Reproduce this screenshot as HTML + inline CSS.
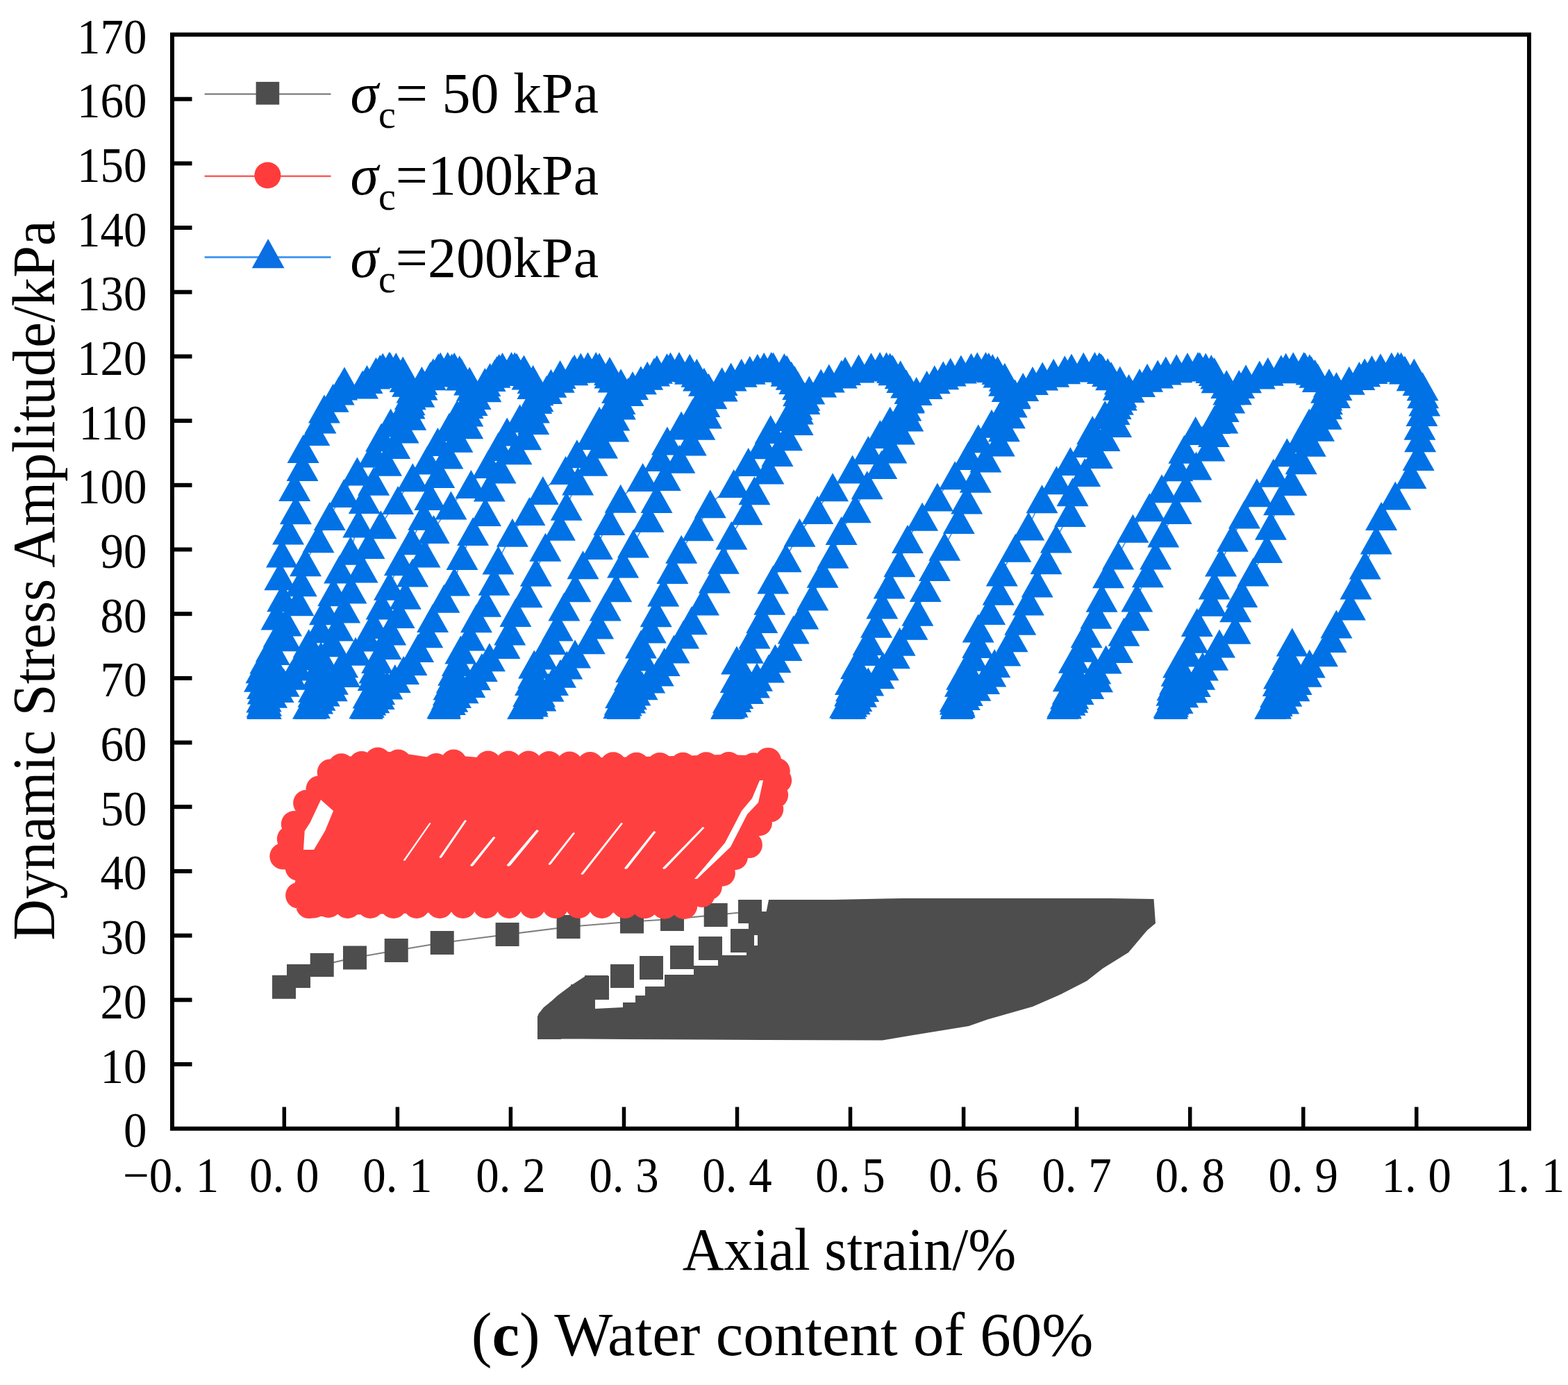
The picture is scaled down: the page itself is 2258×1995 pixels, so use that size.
<!DOCTYPE html>
<html><head><meta charset="utf-8"><title>Axial strain plot</title><style>
body{margin:0;background:#fff;}
svg{display:block;}
.tk{font-family:"Liberation Serif",serif;font-size:72px;fill:#000;}
.ax{font-family:"Liberation Serif",serif;font-size:86px;fill:#000;}
.cap{font-family:"Liberation Serif",serif;font-size:89px;fill:#000;}
.lg{font-family:"Liberation Serif",serif;font-size:82px;fill:#000;}
</style></head>
<body><svg width="2258" height="1995" viewBox="0 0 2258 1995">
<rect width="2258" height="1995" fill="#fff"/>
<polyline points="409.0,1421.8 430.0,1406.0 463.7,1390.0 511.0,1379.5 570.7,1369.0 636.7,1358.0 730.6,1346.0 818.6,1335.0 910.0,1327.5 968.0,1324.0 1030.7,1318.0 1080.0,1313.0" fill="none" stroke="#808080" stroke-width="2.2"/><path d="M775.0 1461.0 L783.0 1451.0 L793.0 1443.0 L803.0 1434.0 L823.0 1419.0 L843.0 1406.0 L877.0 1406.0 L877.0 1440.0 L857.0 1440.0 L857.0 1453.0 L897.0 1451.0 L897.0 1444.0 L915.0 1444.0 L915.0 1434.0 L929.0 1434.0 L929.0 1421.0 L957.0 1421.0 L957.0 1404.0 L999.0 1404.0 L999.0 1391.0 L1034.0 1391.0 L1034.0 1376.0 L1075.0 1376.0 L1075.0 1362.0 L1091.0 1362.0 L1091.0 1331.0 L1100.0 1331.0 L1107.0 1296.0 L1200.0 1296.0 L1300.0 1294.0 L1400.0 1294.0 L1500.0 1294.0 L1600.0 1294.0 L1661.5 1295.0 L1664.0 1330.0 L1652.0 1340.0 L1625.0 1372.0 L1588.0 1395.0 L1565.0 1413.0 L1528.0 1432.0 L1487.0 1450.0 L1422.0 1468.6 L1395.0 1478.0 L1312.0 1491.6 L1270.6 1498.5 L1100.0 1498.0 L900.0 1497.0 L774.0 1496.0zM392.0 1404.8h34.0v34.0h-34.0zM413.0 1389.0h34.0v34.0h-34.0zM446.7 1373.0h34.0v34.0h-34.0zM494.0 1362.5h34.0v34.0h-34.0zM553.7 1352.0h34.0v34.0h-34.0zM619.7 1341.0h34.0v34.0h-34.0zM713.6 1329.0h34.0v34.0h-34.0zM801.6 1318.0h34.0v34.0h-34.0zM893.0 1310.5h34.0v34.0h-34.0zM951.0 1307.0h34.0v34.0h-34.0zM1013.7 1301.0h34.0v34.0h-34.0zM1063.0 1296.0h34.0v34.0h-34.0zM774.0 1463.0h34.0v34.0h-34.0zM792.0 1443.0h34.0v34.0h-34.0zM822.0 1418.0h34.0v34.0h-34.0zM842.0 1405.0h34.0v34.0h-34.0zM879.0 1389.0h34.0v34.0h-34.0zM921.0 1377.0h34.0v34.0h-34.0zM965.0 1362.0h34.0v34.0h-34.0zM1006.0 1349.0h34.0v34.0h-34.0zM1052.0 1338.0h34.0v34.0h-34.0zM1078.0 1313.0h34.0v34.0h-34.0z" fill="#4d4d4d"/><path d="M479.4 1098.9 L500.7 1089.9 L527.9 1087.6 L556.5 1082.5 L585.8 1086.1 L633.7 1093.2 L661.8 1088.7 L707.7 1092.6 L760.3 1093.4 L841.8 1091.8 L939.4 1089.7 L1038.7 1087.1 L1110.5 1088.7 L1126.0 1111.5 L1127.8 1130.4 L1121.9 1153.2 L1112.0 1177.8 L1096.0 1196.8 L1080.7 1215.7 L1078.8 1230.6 L1061.2 1244.0 L1041.9 1268.0 L1022.7 1287.0 L1008.9 1300.0 L974.5 1318.1 L891.0 1315.1 L795.7 1311.8 L704.2 1311.8 L609.0 1315.1 L510.6 1317.4 L455.6 1316.3 L440.2 1310.1 L422.8 1283.7 L426.7 1259.5 L411.9 1242.2 L401.7 1224.8 L411.6 1202.6 L419.4 1177.9 L438.9 1145.7 L456.3 1127.2z" fill="#ff4040"/><path d="M456.7 1112.4a19.0 19.0 0 1 0 38.0 0a19.0 19.0 0 1 0 -38.0 0zM472.6 1104.3a19.0 19.0 0 1 0 38.0 0a19.0 19.0 0 1 0 -38.0 0zM501.8 1101.1a19.0 19.0 0 1 0 38.0 0a19.0 19.0 0 1 0 -38.0 0zM525.1 1095.5a19.0 19.0 0 1 0 38.0 0a19.0 19.0 0 1 0 -38.0 0zM554.5 1098.5a19.0 19.0 0 1 0 38.0 0a19.0 19.0 0 1 0 -38.0 0zM609.3 1104.0a19.0 19.0 0 1 0 38.0 0a19.0 19.0 0 1 0 -38.0 0zM634.3 1098.6a19.0 19.0 0 1 0 38.0 0a19.0 19.0 0 1 0 -38.0 0zM684.0 1100.5a19.0 19.0 0 1 0 38.0 0a19.0 19.0 0 1 0 -38.0 0zM713.3 1100.5a19.0 19.0 0 1 0 38.0 0a19.0 19.0 0 1 0 -38.0 0zM742.3 1100.5a19.0 19.0 0 1 0 38.0 0a19.0 19.0 0 1 0 -38.0 0zM771.7 1101.0a19.0 19.0 0 1 0 38.0 0a19.0 19.0 0 1 0 -38.0 0zM801.2 1101.5a19.0 19.0 0 1 0 38.0 0a19.0 19.0 0 1 0 -38.0 0zM830.8 1102.0a19.0 19.0 0 1 0 38.0 0a19.0 19.0 0 1 0 -38.0 0zM864.1 1102.3a19.0 19.0 0 1 0 38.0 0a19.0 19.0 0 1 0 -38.0 0zM897.5 1102.7a19.0 19.0 0 1 0 38.0 0a19.0 19.0 0 1 0 -38.0 0zM931.2 1103.0a19.0 19.0 0 1 0 38.0 0a19.0 19.0 0 1 0 -38.0 0zM964.5 1102.7a19.0 19.0 0 1 0 38.0 0a19.0 19.0 0 1 0 -38.0 0zM997.9 1102.3a19.0 19.0 0 1 0 38.0 0a19.0 19.0 0 1 0 -38.0 0zM1030.4 1102.0a19.0 19.0 0 1 0 38.0 0a19.0 19.0 0 1 0 -38.0 0zM1066.4 1103.2a19.0 19.0 0 1 0 38.0 0a19.0 19.0 0 1 0 -38.0 0zM1087.2 1095.9a19.0 19.0 0 1 0 38.0 0a19.0 19.0 0 1 0 -38.0 0zM1099.8 1110.8a19.0 19.0 0 1 0 38.0 0a19.0 19.0 0 1 0 -38.0 0zM1102.2 1123.9a19.0 19.0 0 1 0 38.0 0a19.0 19.0 0 1 0 -38.0 0zM1097.1 1145.2a19.0 19.0 0 1 0 38.0 0a19.0 19.0 0 1 0 -38.0 0zM1090.3 1165.4a19.0 19.0 0 1 0 38.0 0a19.0 19.0 0 1 0 -38.0 0zM1074.0 1185.3a19.0 19.0 0 1 0 38.0 0a19.0 19.0 0 1 0 -38.0 0zM1054.9 1214.2a19.0 19.0 0 1 0 38.0 0a19.0 19.0 0 1 0 -38.0 0zM1059.9 1217.1a19.0 19.0 0 1 0 38.0 0a19.0 19.0 0 1 0 -38.0 0zM1039.0 1234.3a19.0 19.0 0 1 0 38.0 0a19.0 19.0 0 1 0 -38.0 0zM1020.9 1257.7a19.0 19.0 0 1 0 38.0 0a19.0 19.0 0 1 0 -38.0 0zM1001.8 1277.4a19.0 19.0 0 1 0 38.0 0a19.0 19.0 0 1 0 -38.0 0zM991.8 1288.0a19.0 19.0 0 1 0 38.0 0a19.0 19.0 0 1 0 -38.0 0zM966.2 1305.0a19.0 19.0 0 1 0 38.0 0a19.0 19.0 0 1 0 -38.0 0zM937.9 1304.7a19.0 19.0 0 1 0 38.0 0a19.0 19.0 0 1 0 -38.0 0zM909.6 1304.3a19.0 19.0 0 1 0 38.0 0a19.0 19.0 0 1 0 -38.0 0zM881.0 1304.0a19.0 19.0 0 1 0 38.0 0a19.0 19.0 0 1 0 -38.0 0zM847.7 1304.0a19.0 19.0 0 1 0 38.0 0a19.0 19.0 0 1 0 -38.0 0zM814.3 1304.0a19.0 19.0 0 1 0 38.0 0a19.0 19.0 0 1 0 -38.0 0zM781.0 1304.0a19.0 19.0 0 1 0 38.0 0a19.0 19.0 0 1 0 -38.0 0zM747.7 1304.0a19.0 19.0 0 1 0 38.0 0a19.0 19.0 0 1 0 -38.0 0zM714.3 1304.0a19.0 19.0 0 1 0 38.0 0a19.0 19.0 0 1 0 -38.0 0zM681.0 1304.0a19.0 19.0 0 1 0 38.0 0a19.0 19.0 0 1 0 -38.0 0zM647.7 1304.0a19.0 19.0 0 1 0 38.0 0a19.0 19.0 0 1 0 -38.0 0zM614.3 1304.0a19.0 19.0 0 1 0 38.0 0a19.0 19.0 0 1 0 -38.0 0zM581.0 1304.0a19.0 19.0 0 1 0 38.0 0a19.0 19.0 0 1 0 -38.0 0zM547.7 1304.0a19.0 19.0 0 1 0 38.0 0a19.0 19.0 0 1 0 -38.0 0zM514.3 1304.0a19.0 19.0 0 1 0 38.0 0a19.0 19.0 0 1 0 -38.0 0zM481.7 1304.0a19.0 19.0 0 1 0 38.0 0a19.0 19.0 0 1 0 -38.0 0zM454.0 1303.0a19.0 19.0 0 1 0 38.0 0a19.0 19.0 0 1 0 -38.0 0zM433.0 1303.5a19.0 19.0 0 1 0 38.0 0a19.0 19.0 0 1 0 -38.0 0zM426.0 1304.1a19.0 19.0 0 1 0 38.0 0a19.0 19.0 0 1 0 -38.0 0zM411.1 1289.8a19.0 19.0 0 1 0 38.0 0a19.0 19.0 0 1 0 -38.0 0zM410.6 1249.8a19.0 19.0 0 1 0 38.0 0a19.0 19.0 0 1 0 -38.0 0zM397.5 1234.6a19.0 19.0 0 1 0 38.0 0a19.0 19.0 0 1 0 -38.0 0zM388.3 1233.4a19.0 19.0 0 1 0 38.0 0a19.0 19.0 0 1 0 -38.0 0zM398.8 1208.5a19.0 19.0 0 1 0 38.0 0a19.0 19.0 0 1 0 -38.0 0zM404.8 1187.0a19.0 19.0 0 1 0 38.0 0a19.0 19.0 0 1 0 -38.0 0zM422.1 1156.8a19.0 19.0 0 1 0 38.0 0a19.0 19.0 0 1 0 -38.0 0zM440.5 1136.4a19.0 19.0 0 1 0 38.0 0a19.0 19.0 0 1 0 -38.0 0z" fill="#ff4040"/><path d="M462.0 1152.0 L480.0 1168.0 L468.0 1197.0 L452.0 1224.0 L437.0 1224.0 L438.7 1197.0 L446.5 1185.0zM1094.0 1124.0 L1083.0 1150.0 L1068.0 1168.0 L1044.0 1214.0 L1000.0 1266.0 L1004.0 1266.0 L1052.0 1220.0 L1076.0 1173.0 L1092.0 1156.0 L1099.0 1124.0zM1012.0 1191.0L1014.5 1192.5L958.5 1251.0L956.0 1252.0L954.0 1250.5L1010.0 1193.0zM942.0 1197.0L944.5 1198.5L903.5 1251.0L901.0 1252.0L899.0 1250.5L940.0 1199.0zM895.0 1185.0L897.0 1186.2L840.0 1259.2L838.0 1260.0L836.4 1258.8L893.4 1186.6zM826.0 1199.0L828.0 1200.2L793.0 1245.2L791.0 1246.0L789.4 1244.8L824.4 1200.6zM773.0 1195.0L776.0 1196.8L735.0 1246.8L732.0 1248.0L729.6 1246.2L770.6 1197.4zM711.0 1205.0L713.5 1206.5L681.5 1247.0L679.0 1248.0L677.0 1246.5L709.0 1207.0zM670.0 1181.0L672.0 1182.2L636.0 1235.2L634.0 1236.0L632.4 1234.8L668.4 1182.6zM619.0 1185.0L620.5 1185.9L583.5 1239.4L582.0 1240.0L580.8 1239.1L617.8 1186.2z" fill="#fff"/><polyline points="379.0,1015.5 378.2,1014.9 377.6,1013.1 379.1,1010.4 377.3,1006.1 380.1,1001.0 378.8,994.1 378.2,986.6 374.0,976.3 376.5,963.7 382.4,949.9 390.8,932.9 401.7,911.7 398.5,887.1 407.2,860.8 403.3,829.7 406.0,797.0 415.0,764.1 425.9,734.7 424.2,701.4 435.5,672.6 436.6,646.4 452.3,621.6 461.5,604.0 466.9,589.1 479.6,573.3 487.7,563.1 522.1,553.9 528.5,546.4 539.1,540.0 541.5,535.2 547.3,531.5 551.2,529.1 561.8,527.8 560.4,527.6 570.3,528.5 571.0,530.7 580.2,534.1 579.4,538.5 583.7,544.5 587.1,551.2 593.5,559.9 590.8,569.8 589.5,582.9 591.2,599.3 580.6,617.9 568.2,640.5 556.0,665.2 538.1,693.2 524.8,719.5 516.3,754.0 504.8,793.3 489.1,820.0 480.2,852.8 468.0,879.7 460.8,905.8 444.7,926.7 436.2,944.2 427.1,959.9 419.4,973.3 408.6,983.3 400.6,991.5 391.0,999.2 382.7,1004.9 379.7,1009.2 379.4,1012.4 380.3,1014.5 382.8,1015.4 378.9,1015.2 378.8,1013.8 383.1,1011.2 380.4,1007.5 379.6,1002.4 386.5,996.4 387.1,988.9 383.9,979.5 386.4,968.4 391.7,954.5 394.8,937.4 411.1,917.7 411.9,896.0 429.5,866.8 433.7,838.7 440.0,809.8 458.5,775.8 474.7,743.6 495.3,710.6 514.4,678.9 538.3,653.1 549.1,629.9 562.6,608.9 580.1,591.9 589.6,577.8 603.4,566.3 607.5,556.1 607.4,548.5 619.8,541.8 623.8,536.7 629.9,532.6 631.3,529.8 634.2,528.0 644.7,527.5 654.2,528.2 650.5,529.9 661.7,532.8 664.6,537.1 665.0,542.0 676.1,549.0 679.9,557.2 679.4,566.3 679.6,578.5 673.3,594.1 673.2,611.7 658.4,631.3 644.4,655.1 632.2,682.5 619.2,714.6 610.3,743.2 592.7,778.8 575.9,808.8 561.0,844.2 549.6,872.0 537.7,899.5 527.7,918.1 512.1,938.2 493.1,955.8 496.0,969.6 478.9,980.2 477.7,989.8 466.8,997.1 460.5,1003.3 457.1,1008.0 448.6,1011.6 447.1,1014.0 444.0,1015.3 447.6,1015.4 453.0,1014.4 446.9,1012.2 450.2,1008.5 450.8,1004.2 451.5,998.2 452.0,991.3 458.3,982.7 457.0,972.8 459.6,958.8 462.2,944.9 478.2,925.8 486.6,902.9 496.2,877.0 505.5,849.0 521.6,819.1 531.5,784.4 548.4,755.7 573.1,720.4 594.3,687.7 615.2,662.9 630.4,636.4 646.9,615.3 658.4,596.8 673.6,582.4 684.6,569.6 699.3,558.8 698.4,550.6 705.6,543.4 712.4,538.3 715.6,533.6 718.7,530.5 723.5,528.4 736.5,527.5 741.2,527.8 744.1,529.3 754.5,531.9 752.2,535.5 759.5,540.9 767.6,546.6 767.4,554.4 774.4,563.8 772.3,575.4 768.9,589.0 768.2,605.6 757.2,627.8 743.4,648.8 720.6,675.9 704.8,702.1 698.9,737.6 681.1,765.6 665.5,800.6 654.2,837.9 639.4,862.2 623.1,890.4 615.3,912.8 602.1,933.4 592.5,952.5 581.1,965.6 568.8,977.5 557.4,987.1 546.3,994.7 545.6,1001.5 538.3,1006.8 528.1,1010.6 530.8,1013.4 527.4,1015.0 528.6,1015.5 525.4,1014.8 530.0,1012.9 533.3,1009.9 534.2,1005.7 530.5,1000.1 540.6,993.6 539.6,985.2 537.6,974.5 539.4,963.9 543.1,949.4 555.5,929.6 562.2,909.1 574.6,884.5 583.8,857.2 594.1,825.1 611.5,797.1 624.6,762.4 649.4,727.9 678.4,697.6 703.3,668.5 717.5,643.5 730.2,622.0 748.7,602.7 763.0,585.3 774.4,572.8 787.1,561.5 793.4,552.3 804.7,545.3 806.6,539.5 824.5,534.7 827.2,531.3 836.3,528.9 846.5,527.7 858.2,527.6 863.0,528.7 863.4,530.9 878.0,534.4 878.5,539.0 883.6,544.9 894.1,551.7 889.1,560.4 888.2,572.0 892.8,583.9 884.3,600.1 883.4,616.1 867.0,640.0 852.6,665.3 832.2,692.9 815.7,729.2 805.9,758.3 785.4,788.3 771.8,824.3 758.5,854.7 742.4,882.6 734.2,909.1 726.5,928.6 704.9,946.8 693.8,961.4 683.9,973.7 676.3,984.4 666.6,992.8 656.0,999.5 651.3,1005.2 647.9,1009.5 639.6,1012.7 637.4,1014.7 639.6,1015.5 640.9,1015.1 640.5,1013.6 640.4,1010.9 641.7,1007.0 643.9,1001.9 645.8,995.8 646.5,987.9 650.8,977.8 653.2,967.3 658.8,953.5 663.4,936.1 676.3,916.9 685.9,890.8 699.1,868.3 711.6,837.2 717.5,807.0 737.9,767.3 762.4,736.6 781.8,706.6 814.5,677.5 830.9,653.8 851.4,627.6 863.2,606.3 876.8,590.9 892.5,576.6 904.5,564.5 911.0,555.6 922.9,547.8 932.2,541.2 942.0,536.0 945.9,532.3 960.5,529.5 965.5,527.9 978.0,527.5 978.4,528.3 993.2,530.2 994.0,533.3 1003.4,537.2 1006.1,543.1 1013.9,550.2 1020.5,558.2 1018.7,568.6 1014.3,580.4 1016.8,597.0 1007.3,613.2 994.8,636.1 978.4,661.2 957.8,686.4 945.5,718.5 933.7,746.3 912.0,782.9 897.1,811.9 887.3,846.8 871.8,873.9 861.1,900.0 848.8,921.7 828.1,941.9 816.2,958.1 807.0,970.3 796.0,981.5 789.5,990.3 777.1,998.1 778.3,1004.0 766.4,1008.4 766.8,1011.9 756.6,1014.2 759.5,1015.4 753.1,1015.4 760.3,1014.2 758.5,1011.9 761.6,1008.3 762.3,1003.6 761.2,997.6 767.4,990.5 764.0,981.5 768.1,971.2 769.2,956.9 780.1,944.1 792.9,922.6 802.8,903.1 812.4,874.1 828.4,846.8 839.5,813.8 859.8,785.6 877.3,750.6 893.7,718.3 925.6,687.4 950.2,658.5 960.9,634.9 981.1,612.9 997.5,595.1 1005.7,581.3 1024.4,568.7 1039.7,558.1 1039.6,549.5 1052.6,542.9 1067.7,537.3 1079.7,533.2 1090.8,530.2 1100.2,528.3 1110.7,527.5 1113.5,527.9 1129.4,529.5 1133.2,532.3 1132.5,536.3 1139.7,541.2 1144.3,547.6 1149.2,555.4 1150.1,564.7 1158.3,576.5 1148.9,591.0 1148.6,606.4 1133.0,628.8 1119.5,651.4 1106.4,677.0 1086.4,706.8 1075.5,735.7 1053.4,771.3 1041.8,806.3 1028.9,833.9 1013.0,865.9 996.0,893.8 984.1,913.9 970.5,934.9 956.7,953.5 947.7,968.1 935.2,977.9 924.6,987.7 914.4,995.9 908.9,1001.7 907.2,1007.1 901.8,1010.9 899.6,1013.6 899.6,1015.1 896.7,1015.5 891.3,1014.7 895.4,1012.7 892.8,1009.7 898.3,1005.1 894.1,999.7 900.6,992.7 903.2,984.2 907.0,973.9 909.3,962.5 923.9,946.0 923.0,927.9 936.7,906.0 944.7,882.7 955.2,853.2 968.4,820.4 981.2,791.3 1005.2,758.8 1022.8,725.7 1056.7,696.5 1077.7,665.6 1098.1,640.7 1109.7,618.4 1134.3,600.6 1147.5,584.3 1158.4,571.3 1165.3,561.9 1182.2,551.9 1193.8,544.9 1211.8,539.0 1217.1,534.4 1236.5,531.0 1254.5,528.7 1267.1,527.6 1276.5,527.7 1281.6,528.9 1285.1,531.4 1287.2,534.8 1296.7,539.7 1299.3,545.6 1305.1,552.9 1310.5,561.4 1309.0,573.3 1304.3,585.9 1307.3,601.1 1295.1,620.1 1283.4,647.0 1269.3,669.4 1248.7,698.8 1231.7,732.8 1211.6,764.5 1199.5,798.2 1184.6,826.2 1170.2,859.0 1156.2,886.1 1142.7,907.0 1132.6,931.5 1116.4,948.5 1107.0,962.9 1090.0,975.3 1086.0,984.9 1077.0,993.4 1062.3,1000.6 1059.1,1005.6 1053.4,1010.0 1054.6,1012.9 1050.0,1014.8 1046.1,1015.5 1048.0,1015.0 1047.0,1013.4 1049.3,1010.6 1048.9,1006.8 1052.1,1001.7 1056.6,995.2 1061.7,986.9 1059.7,977.4 1065.9,966.9 1061.0,950.9 1076.8,935.3 1086.5,914.1 1097.3,891.4 1108.3,865.2 1113.3,834.9 1131.7,803.8 1151.5,767.2 1177.3,734.5 1199.1,701.8 1227.6,676.1 1250.3,648.6 1267.4,625.6 1281.7,606.3 1300.1,588.8 1308.5,575.1 1319.7,563.5 1334.7,554.4 1345.8,546.7 1358.3,540.7 1368.7,535.9 1383.9,532.0 1398.5,529.3 1407.3,527.8 1419.5,527.5 1423.8,528.4 1429.3,530.4 1436.5,533.6 1438.5,538.0 1446.8,543.3 1446.1,550.2 1450.6,558.6 1461.4,568.7 1456.7,580.9 1453.8,596.7 1445.9,615.8 1438.8,637.0 1419.4,660.1 1404.8,689.2 1392.2,720.1 1380.8,748.6 1360.3,787.3 1345.9,816.5 1332.7,846.5 1321.4,881.2 1313.4,901.3 1295.6,924.3 1287.9,942.7 1271.7,959.7 1265.4,971.8 1250.2,982.0 1243.3,990.6 1240.1,998.3 1233.3,1004.5 1230.6,1008.7 1226.1,1012.2 1219.0,1014.3 1219.8,1015.4 1224.5,1015.3 1217.0,1014.0 1220.2,1011.6 1222.5,1007.9 1226.1,1002.8 1224.0,997.0 1226.0,989.8 1224.9,980.4 1232.4,969.8 1233.0,957.7 1248.7,938.6 1250.7,923.5 1262.0,898.2 1270.3,871.0 1280.7,841.9 1295.4,810.8 1306.9,776.5 1328.1,744.2 1349.9,715.9 1375.2,684.7 1394.4,656.5 1408.8,631.8 1428.0,610.2 1444.8,593.8 1451.2,578.8 1461.7,567.1 1473.2,557.6 1487.0,548.4 1501.2,542.0 1517.2,537.2 1533.3,532.8 1543.0,530.0 1560.3,528.1 1576.5,527.5 1583.0,528.0 1585.5,529.7 1587.9,532.5 1595.2,536.5 1600.2,541.8 1612.8,548.1 1610.7,556.2 1614.5,566.5 1609.8,577.3 1604.5,591.4 1607.1,609.5 1590.5,629.5 1579.8,654.5 1562.2,680.5 1544.6,708.7 1541.0,738.4 1520.9,776.1 1506.5,806.8 1493.7,839.9 1480.9,866.1 1469.3,894.3 1457.6,918.8 1447.3,939.1 1432.2,955.4 1426.3,969.1 1417.1,979.6 1404.3,989.2 1392.8,996.5 1388.8,1002.6 1380.1,1007.4 1381.4,1011.3 1381.7,1013.8 1376.7,1015.2 1378.2,1015.4 1379.0,1014.5 1377.6,1012.4 1375.8,1009.0 1375.7,1004.9 1381.2,998.8 1384.0,992.5 1382.9,983.3 1385.2,973.3 1392.1,961.3 1400.1,946.2 1408.2,927.5 1408.7,904.9 1425.1,879.5 1437.7,851.3 1442.8,823.9 1462.3,789.2 1481.2,757.9 1500.5,718.7 1521.5,691.8 1541.4,664.6 1564.4,638.4 1573.3,619.4 1591.3,597.6 1606.6,583.5 1614.8,570.9 1625.6,559.5 1641.1,551.5 1652.1,544.3 1667.2,538.9 1678.8,534.1 1694.2,530.7 1710.0,528.6 1725.1,527.6 1727.7,527.7 1736.3,529.1 1744.3,531.6 1748.7,535.4 1751.3,539.9 1752.6,545.8 1766.3,553.4 1769.4,563.1 1769.0,574.6 1761.7,587.4 1760.4,604.1 1748.0,623.4 1741.4,643.9 1722.5,671.0 1707.8,703.1 1693.7,734.5 1675.2,767.9 1664.1,799.9 1652.9,825.8 1637.3,861.0 1632.6,888.3 1618.5,910.2 1609.0,934.5 1592.7,949.9 1577.2,965.1 1580.0,976.8 1567.3,986.5 1552.7,994.7 1545.2,1000.9 1544.3,1006.3 1540.6,1010.3 1534.1,1013.1 1534.8,1014.9 1530.1,1015.5 1532.7,1014.9 1530.5,1013.1 1535.7,1010.3 1542.0,1006.0 1535.1,1001.1 1537.8,994.3 1545.3,986.2 1538.8,975.8 1546.2,964.7 1546.9,949.3 1559.7,933.2 1564.6,912.7 1578.5,885.3 1586.6,861.3 1596.1,826.7 1610.1,800.1 1631.4,761.3 1655.3,730.8 1673.0,703.8 1695.2,672.7 1705.4,647.2 1721.7,620.5 1748.9,604.6 1759.8,586.9 1770.3,574.9 1780.0,562.8 1784.3,553.6 1794.1,545.8 1813.8,539.9 1825.8,535.2 1844.9,531.7 1851.7,529.1 1862.3,527.7 1877.6,527.6 1879.4,528.5 1885.9,530.8 1888.6,534.0 1893.5,538.3 1897.8,544.5 1914.0,551.4 1910.1,560.2 1910.4,570.9 1910.4,583.4 1909.5,598.2 1899.0,615.3 1886.8,637.2 1873.7,662.8 1859.5,693.4 1842.1,721.8 1830.0,757.3 1824.2,790.5 1804.6,824.0 1788.3,854.5 1779.2,875.8 1778.6,907.2 1756.0,927.0 1746.0,945.3 1731.9,960.0 1727.2,973.3 1720.8,983.6 1716.4,991.9 1703.2,998.7 1693.0,1004.9 1689.5,1009.2 1688.9,1012.4 1685.9,1014.5 1684.6,1015.4 1688.0,1015.2 1683.6,1013.8 1686.6,1011.3 1695.6,1007.6 1688.6,1002.6 1687.4,996.2 1688.5,988.8 1692.1,980.0 1694.6,968.3 1697.2,956.0 1708.8,939.9 1717.4,920.3 1723.8,896.5 1743.6,867.2 1748.7,842.9 1758.1,809.9 1774.9,774.3 1792.0,741.0 1809.9,709.7 1833.8,681.2 1853.4,651.7 1872.9,631.4 1885.3,609.0 1897.4,592.6 1911.0,576.7 1922.0,567.4 1924.5,556.6 1942.8,548.3 1957.4,541.6 1965.2,536.8 1975.5,532.5 1988.0,529.7 2003.9,528.0 2013.0,527.5 2017.7,528.1 2013.0,530.0 2023.0,532.9 2036.4,536.9 2033.7,542.7 2042.6,549.5 2048.6,556.8 2049.2,567.7 2051.3,579.1 2047.5,593.6 2044.5,613.3 2045.2,630.7 2042.7,657.5 2031.5,683.6 2009.3,714.0 1989.1,743.4 1981.8,777.9 1965.8,814.0 1952.5,843.0 1943.9,873.0 1924.5,899.0 1916.6,919.6 1904.0,939.8 1885.8,956.1 1880.9,969.3 1866.7,980.5 1863.5,989.7 1852.4,997.3 1845.6,1003.1 1848.2,1007.9 1838.7,1011.6 1836.4,1014.0 1836.9,1015.3 1829.2,1015.4 1833.1,1014.3 1834.1,1012.1 1838.3,1008.7 1838.7,1004.3 1837.2,998.5 1846.0,991.4 1840.8,982.6 1842.1,972.1 1851.6,958.5 1854.4,944.5 1860.8,925.0" fill="none" stroke="#3f8fef" stroke-width="1.6"/><path d="M356.0 1036.0h46.0l-23.0 -41.0zM355.2 1035.4h46.0l-23.0 -41.0zM354.6 1033.6h46.0l-23.0 -41.0zM356.1 1030.9h46.0l-23.0 -41.0zM354.3 1026.6h46.0l-23.0 -41.0zM357.1 1021.5h46.0l-23.0 -41.0zM355.8 1014.6h46.0l-23.0 -41.0zM355.2 1007.1h46.0l-23.0 -41.0zM351.0 996.8h46.0l-23.0 -41.0zM353.5 984.2h46.0l-23.0 -41.0zM359.4 970.4h46.0l-23.0 -41.0zM367.8 953.4h46.0l-23.0 -41.0zM378.7 932.2h46.0l-23.0 -41.0zM375.5 907.6h46.0l-23.0 -41.0zM384.2 881.3h46.0l-23.0 -41.0zM380.3 850.2h46.0l-23.0 -41.0zM383.0 817.5h46.0l-23.0 -41.0zM392.0 784.6h46.0l-23.0 -41.0zM402.9 755.2h46.0l-23.0 -41.0zM401.2 721.9h46.0l-23.0 -41.0zM412.5 693.1h46.0l-23.0 -41.0zM413.6 666.9h46.0l-23.0 -41.0zM429.3 642.1h46.0l-23.0 -41.0zM438.5 624.5h46.0l-23.0 -41.0zM443.9 609.6h46.0l-23.0 -41.0zM456.6 593.8h46.0l-23.0 -41.0zM464.7 583.6h46.0l-23.0 -41.0zM499.1 574.4h46.0l-23.0 -41.0zM505.5 566.9h46.0l-23.0 -41.0zM516.1 560.5h46.0l-23.0 -41.0zM518.5 555.7h46.0l-23.0 -41.0zM524.3 552.0h46.0l-23.0 -41.0zM528.2 549.6h46.0l-23.0 -41.0zM538.8 548.3h46.0l-23.0 -41.0zM537.4 548.1h46.0l-23.0 -41.0zM547.3 549.0h46.0l-23.0 -41.0zM548.0 551.2h46.0l-23.0 -41.0zM557.2 554.6h46.0l-23.0 -41.0zM556.4 559.0h46.0l-23.0 -41.0zM560.7 565.0h46.0l-23.0 -41.0zM564.1 571.7h46.0l-23.0 -41.0zM570.5 580.4h46.0l-23.0 -41.0zM567.8 590.3h46.0l-23.0 -41.0zM566.5 603.4h46.0l-23.0 -41.0zM568.2 619.8h46.0l-23.0 -41.0zM557.6 638.4h46.0l-23.0 -41.0zM545.2 661.0h46.0l-23.0 -41.0zM533.0 685.7h46.0l-23.0 -41.0zM515.1 713.7h46.0l-23.0 -41.0zM501.8 740.0h46.0l-23.0 -41.0zM493.3 774.5h46.0l-23.0 -41.0zM481.8 813.8h46.0l-23.0 -41.0zM466.1 840.5h46.0l-23.0 -41.0zM457.2 873.3h46.0l-23.0 -41.0zM445.0 900.2h46.0l-23.0 -41.0zM437.8 926.3h46.0l-23.0 -41.0zM421.7 947.2h46.0l-23.0 -41.0zM413.2 964.7h46.0l-23.0 -41.0zM404.1 980.4h46.0l-23.0 -41.0zM396.4 993.8h46.0l-23.0 -41.0zM385.6 1003.8h46.0l-23.0 -41.0zM377.6 1012.0h46.0l-23.0 -41.0zM368.0 1019.7h46.0l-23.0 -41.0zM359.7 1025.4h46.0l-23.0 -41.0zM356.7 1029.7h46.0l-23.0 -41.0zM356.4 1032.9h46.0l-23.0 -41.0zM357.3 1035.0h46.0l-23.0 -41.0zM359.8 1035.9h46.0l-23.0 -41.0zM355.9 1035.7h46.0l-23.0 -41.0zM355.8 1034.3h46.0l-23.0 -41.0zM360.1 1031.7h46.0l-23.0 -41.0zM357.4 1028.0h46.0l-23.0 -41.0zM356.6 1022.9h46.0l-23.0 -41.0zM363.5 1016.9h46.0l-23.0 -41.0zM364.1 1009.4h46.0l-23.0 -41.0zM360.9 1000.0h46.0l-23.0 -41.0zM363.4 988.9h46.0l-23.0 -41.0zM368.7 975.0h46.0l-23.0 -41.0zM371.8 957.9h46.0l-23.0 -41.0zM388.1 938.2h46.0l-23.0 -41.0zM388.9 916.5h46.0l-23.0 -41.0zM406.5 887.3h46.0l-23.0 -41.0zM410.7 859.2h46.0l-23.0 -41.0zM417.0 830.3h46.0l-23.0 -41.0zM435.5 796.3h46.0l-23.0 -41.0zM451.7 764.1h46.0l-23.0 -41.0zM472.3 731.1h46.0l-23.0 -41.0zM491.4 699.4h46.0l-23.0 -41.0zM515.3 673.6h46.0l-23.0 -41.0zM526.1 650.4h46.0l-23.0 -41.0zM539.6 629.4h46.0l-23.0 -41.0zM557.1 612.4h46.0l-23.0 -41.0zM566.6 598.3h46.0l-23.0 -41.0zM580.4 586.8h46.0l-23.0 -41.0zM584.5 576.6h46.0l-23.0 -41.0zM584.4 569.0h46.0l-23.0 -41.0zM596.8 562.3h46.0l-23.0 -41.0zM600.8 557.2h46.0l-23.0 -41.0zM606.9 553.1h46.0l-23.0 -41.0zM608.3 550.3h46.0l-23.0 -41.0zM611.2 548.5h46.0l-23.0 -41.0zM621.7 548.0h46.0l-23.0 -41.0zM631.2 548.7h46.0l-23.0 -41.0zM627.5 550.4h46.0l-23.0 -41.0zM638.7 553.3h46.0l-23.0 -41.0zM641.6 557.6h46.0l-23.0 -41.0zM642.0 562.5h46.0l-23.0 -41.0zM653.1 569.5h46.0l-23.0 -41.0zM656.9 577.7h46.0l-23.0 -41.0zM656.4 586.8h46.0l-23.0 -41.0zM656.6 599.0h46.0l-23.0 -41.0zM650.3 614.6h46.0l-23.0 -41.0zM650.2 632.2h46.0l-23.0 -41.0zM635.4 651.8h46.0l-23.0 -41.0zM621.4 675.6h46.0l-23.0 -41.0zM609.2 703.0h46.0l-23.0 -41.0zM596.2 735.1h46.0l-23.0 -41.0zM587.3 763.7h46.0l-23.0 -41.0zM569.7 799.3h46.0l-23.0 -41.0zM552.9 829.3h46.0l-23.0 -41.0zM538.0 864.7h46.0l-23.0 -41.0zM526.6 892.5h46.0l-23.0 -41.0zM514.7 920.0h46.0l-23.0 -41.0zM504.7 938.6h46.0l-23.0 -41.0zM489.1 958.7h46.0l-23.0 -41.0zM470.1 976.3h46.0l-23.0 -41.0zM473.0 990.1h46.0l-23.0 -41.0zM455.9 1000.7h46.0l-23.0 -41.0zM454.7 1010.3h46.0l-23.0 -41.0zM443.8 1017.6h46.0l-23.0 -41.0zM437.5 1023.8h46.0l-23.0 -41.0zM434.1 1028.5h46.0l-23.0 -41.0zM425.6 1032.1h46.0l-23.0 -41.0zM424.1 1034.5h46.0l-23.0 -41.0zM421.0 1035.8h46.0l-23.0 -41.0zM424.6 1035.9h46.0l-23.0 -41.0zM430.0 1034.9h46.0l-23.0 -41.0zM423.9 1032.7h46.0l-23.0 -41.0zM427.2 1029.0h46.0l-23.0 -41.0zM427.8 1024.7h46.0l-23.0 -41.0zM428.5 1018.7h46.0l-23.0 -41.0zM429.0 1011.8h46.0l-23.0 -41.0zM435.3 1003.2h46.0l-23.0 -41.0zM434.0 993.3h46.0l-23.0 -41.0zM436.6 979.3h46.0l-23.0 -41.0zM439.2 965.4h46.0l-23.0 -41.0zM455.2 946.3h46.0l-23.0 -41.0zM463.6 923.4h46.0l-23.0 -41.0zM473.2 897.5h46.0l-23.0 -41.0zM482.5 869.5h46.0l-23.0 -41.0zM498.6 839.6h46.0l-23.0 -41.0zM508.5 804.9h46.0l-23.0 -41.0zM525.4 776.2h46.0l-23.0 -41.0zM550.1 740.9h46.0l-23.0 -41.0zM571.3 708.2h46.0l-23.0 -41.0zM592.2 683.4h46.0l-23.0 -41.0zM607.4 656.9h46.0l-23.0 -41.0zM623.9 635.8h46.0l-23.0 -41.0zM635.4 617.3h46.0l-23.0 -41.0zM650.6 602.9h46.0l-23.0 -41.0zM661.6 590.1h46.0l-23.0 -41.0zM676.3 579.3h46.0l-23.0 -41.0zM675.4 571.1h46.0l-23.0 -41.0zM682.6 563.9h46.0l-23.0 -41.0zM689.4 558.8h46.0l-23.0 -41.0zM692.6 554.1h46.0l-23.0 -41.0zM695.7 551.0h46.0l-23.0 -41.0zM700.5 548.9h46.0l-23.0 -41.0zM713.5 548.0h46.0l-23.0 -41.0zM718.2 548.3h46.0l-23.0 -41.0zM721.1 549.8h46.0l-23.0 -41.0zM731.5 552.4h46.0l-23.0 -41.0zM729.2 556.0h46.0l-23.0 -41.0zM736.5 561.4h46.0l-23.0 -41.0zM744.6 567.1h46.0l-23.0 -41.0zM744.4 574.9h46.0l-23.0 -41.0zM751.4 584.3h46.0l-23.0 -41.0zM749.3 595.9h46.0l-23.0 -41.0zM745.9 609.5h46.0l-23.0 -41.0zM745.2 626.1h46.0l-23.0 -41.0zM734.2 648.3h46.0l-23.0 -41.0zM720.4 669.3h46.0l-23.0 -41.0zM697.6 696.4h46.0l-23.0 -41.0zM681.8 722.6h46.0l-23.0 -41.0zM675.9 758.1h46.0l-23.0 -41.0zM658.1 786.1h46.0l-23.0 -41.0zM642.5 821.1h46.0l-23.0 -41.0zM631.2 858.4h46.0l-23.0 -41.0zM616.4 882.7h46.0l-23.0 -41.0zM600.1 910.9h46.0l-23.0 -41.0zM592.3 933.3h46.0l-23.0 -41.0zM579.1 953.9h46.0l-23.0 -41.0zM569.5 973.0h46.0l-23.0 -41.0zM558.1 986.1h46.0l-23.0 -41.0zM545.8 998.0h46.0l-23.0 -41.0zM534.4 1007.6h46.0l-23.0 -41.0zM523.3 1015.2h46.0l-23.0 -41.0zM522.6 1022.0h46.0l-23.0 -41.0zM515.3 1027.3h46.0l-23.0 -41.0zM505.1 1031.1h46.0l-23.0 -41.0zM507.8 1033.9h46.0l-23.0 -41.0zM504.4 1035.5h46.0l-23.0 -41.0zM505.6 1036.0h46.0l-23.0 -41.0zM502.4 1035.3h46.0l-23.0 -41.0zM507.0 1033.4h46.0l-23.0 -41.0zM510.3 1030.4h46.0l-23.0 -41.0zM511.2 1026.2h46.0l-23.0 -41.0zM507.5 1020.6h46.0l-23.0 -41.0zM517.6 1014.1h46.0l-23.0 -41.0zM516.6 1005.7h46.0l-23.0 -41.0zM514.6 995.0h46.0l-23.0 -41.0zM516.4 984.4h46.0l-23.0 -41.0zM520.1 969.9h46.0l-23.0 -41.0zM532.5 950.1h46.0l-23.0 -41.0zM539.2 929.6h46.0l-23.0 -41.0zM551.6 905.0h46.0l-23.0 -41.0zM560.8 877.7h46.0l-23.0 -41.0zM571.1 845.6h46.0l-23.0 -41.0zM588.5 817.6h46.0l-23.0 -41.0zM601.6 782.9h46.0l-23.0 -41.0zM626.4 748.4h46.0l-23.0 -41.0zM655.4 718.1h46.0l-23.0 -41.0zM680.3 689.0h46.0l-23.0 -41.0zM694.5 664.0h46.0l-23.0 -41.0zM707.2 642.5h46.0l-23.0 -41.0zM725.7 623.2h46.0l-23.0 -41.0zM740.0 605.8h46.0l-23.0 -41.0zM751.4 593.3h46.0l-23.0 -41.0zM764.1 582.0h46.0l-23.0 -41.0zM770.4 572.8h46.0l-23.0 -41.0zM781.7 565.8h46.0l-23.0 -41.0zM783.6 560.0h46.0l-23.0 -41.0zM801.5 555.2h46.0l-23.0 -41.0zM804.2 551.8h46.0l-23.0 -41.0zM813.3 549.4h46.0l-23.0 -41.0zM823.5 548.2h46.0l-23.0 -41.0zM835.2 548.1h46.0l-23.0 -41.0zM840.0 549.2h46.0l-23.0 -41.0zM840.4 551.4h46.0l-23.0 -41.0zM855.0 554.9h46.0l-23.0 -41.0zM855.5 559.5h46.0l-23.0 -41.0zM860.6 565.4h46.0l-23.0 -41.0zM871.1 572.2h46.0l-23.0 -41.0zM866.1 580.9h46.0l-23.0 -41.0zM865.2 592.5h46.0l-23.0 -41.0zM869.8 604.4h46.0l-23.0 -41.0zM861.3 620.6h46.0l-23.0 -41.0zM860.4 636.6h46.0l-23.0 -41.0zM844.0 660.5h46.0l-23.0 -41.0zM829.6 685.8h46.0l-23.0 -41.0zM809.2 713.4h46.0l-23.0 -41.0zM792.7 749.7h46.0l-23.0 -41.0zM782.9 778.8h46.0l-23.0 -41.0zM762.4 808.8h46.0l-23.0 -41.0zM748.8 844.8h46.0l-23.0 -41.0zM735.5 875.2h46.0l-23.0 -41.0zM719.4 903.1h46.0l-23.0 -41.0zM711.2 929.6h46.0l-23.0 -41.0zM703.5 949.1h46.0l-23.0 -41.0zM681.9 967.3h46.0l-23.0 -41.0zM670.8 981.9h46.0l-23.0 -41.0zM660.9 994.2h46.0l-23.0 -41.0zM653.3 1004.9h46.0l-23.0 -41.0zM643.6 1013.3h46.0l-23.0 -41.0zM633.0 1020.0h46.0l-23.0 -41.0zM628.3 1025.7h46.0l-23.0 -41.0zM624.9 1030.0h46.0l-23.0 -41.0zM616.6 1033.2h46.0l-23.0 -41.0zM614.4 1035.2h46.0l-23.0 -41.0zM616.6 1036.0h46.0l-23.0 -41.0zM617.9 1035.6h46.0l-23.0 -41.0zM617.5 1034.1h46.0l-23.0 -41.0zM617.4 1031.4h46.0l-23.0 -41.0zM618.7 1027.5h46.0l-23.0 -41.0zM620.9 1022.4h46.0l-23.0 -41.0zM622.8 1016.3h46.0l-23.0 -41.0zM623.5 1008.4h46.0l-23.0 -41.0zM627.8 998.3h46.0l-23.0 -41.0zM630.2 987.8h46.0l-23.0 -41.0zM635.8 974.0h46.0l-23.0 -41.0zM640.4 956.6h46.0l-23.0 -41.0zM653.3 937.4h46.0l-23.0 -41.0zM662.9 911.3h46.0l-23.0 -41.0zM676.1 888.8h46.0l-23.0 -41.0zM688.6 857.7h46.0l-23.0 -41.0zM694.5 827.5h46.0l-23.0 -41.0zM714.9 787.8h46.0l-23.0 -41.0zM739.4 757.1h46.0l-23.0 -41.0zM758.8 727.1h46.0l-23.0 -41.0zM791.5 698.0h46.0l-23.0 -41.0zM807.9 674.3h46.0l-23.0 -41.0zM828.4 648.1h46.0l-23.0 -41.0zM840.2 626.8h46.0l-23.0 -41.0zM853.8 611.4h46.0l-23.0 -41.0zM869.5 597.1h46.0l-23.0 -41.0zM881.5 585.0h46.0l-23.0 -41.0zM888.0 576.1h46.0l-23.0 -41.0zM899.9 568.3h46.0l-23.0 -41.0zM909.2 561.7h46.0l-23.0 -41.0zM919.0 556.5h46.0l-23.0 -41.0zM922.9 552.8h46.0l-23.0 -41.0zM937.5 550.0h46.0l-23.0 -41.0zM942.5 548.4h46.0l-23.0 -41.0zM955.0 548.0h46.0l-23.0 -41.0zM955.4 548.8h46.0l-23.0 -41.0zM970.2 550.7h46.0l-23.0 -41.0zM971.0 553.8h46.0l-23.0 -41.0zM980.4 557.7h46.0l-23.0 -41.0zM983.1 563.6h46.0l-23.0 -41.0zM990.9 570.7h46.0l-23.0 -41.0zM997.5 578.7h46.0l-23.0 -41.0zM995.7 589.1h46.0l-23.0 -41.0zM991.3 600.9h46.0l-23.0 -41.0zM993.8 617.5h46.0l-23.0 -41.0zM984.3 633.7h46.0l-23.0 -41.0zM971.8 656.6h46.0l-23.0 -41.0zM955.4 681.7h46.0l-23.0 -41.0zM934.8 706.9h46.0l-23.0 -41.0zM922.5 739.0h46.0l-23.0 -41.0zM910.7 766.8h46.0l-23.0 -41.0zM889.0 803.4h46.0l-23.0 -41.0zM874.1 832.4h46.0l-23.0 -41.0zM864.3 867.3h46.0l-23.0 -41.0zM848.8 894.4h46.0l-23.0 -41.0zM838.1 920.5h46.0l-23.0 -41.0zM825.8 942.2h46.0l-23.0 -41.0zM805.1 962.4h46.0l-23.0 -41.0zM793.2 978.6h46.0l-23.0 -41.0zM784.0 990.8h46.0l-23.0 -41.0zM773.0 1002.0h46.0l-23.0 -41.0zM766.5 1010.8h46.0l-23.0 -41.0zM754.1 1018.6h46.0l-23.0 -41.0zM755.3 1024.5h46.0l-23.0 -41.0zM743.4 1028.9h46.0l-23.0 -41.0zM743.8 1032.4h46.0l-23.0 -41.0zM733.6 1034.7h46.0l-23.0 -41.0zM736.5 1035.9h46.0l-23.0 -41.0zM730.1 1035.9h46.0l-23.0 -41.0zM737.3 1034.7h46.0l-23.0 -41.0zM735.5 1032.4h46.0l-23.0 -41.0zM738.6 1028.8h46.0l-23.0 -41.0zM739.3 1024.1h46.0l-23.0 -41.0zM738.2 1018.1h46.0l-23.0 -41.0zM744.4 1011.0h46.0l-23.0 -41.0zM741.0 1002.0h46.0l-23.0 -41.0zM745.1 991.7h46.0l-23.0 -41.0zM746.2 977.4h46.0l-23.0 -41.0zM757.1 964.6h46.0l-23.0 -41.0zM769.9 943.1h46.0l-23.0 -41.0zM779.8 923.6h46.0l-23.0 -41.0zM789.4 894.6h46.0l-23.0 -41.0zM805.4 867.3h46.0l-23.0 -41.0zM816.5 834.3h46.0l-23.0 -41.0zM836.8 806.1h46.0l-23.0 -41.0zM854.3 771.1h46.0l-23.0 -41.0zM870.7 738.8h46.0l-23.0 -41.0zM902.6 707.9h46.0l-23.0 -41.0zM927.2 679.0h46.0l-23.0 -41.0zM937.9 655.4h46.0l-23.0 -41.0zM958.1 633.4h46.0l-23.0 -41.0zM974.5 615.6h46.0l-23.0 -41.0zM982.7 601.8h46.0l-23.0 -41.0zM1001.4 589.2h46.0l-23.0 -41.0zM1016.7 578.6h46.0l-23.0 -41.0zM1016.6 570.0h46.0l-23.0 -41.0zM1029.6 563.4h46.0l-23.0 -41.0zM1044.7 557.8h46.0l-23.0 -41.0zM1056.7 553.7h46.0l-23.0 -41.0zM1067.8 550.7h46.0l-23.0 -41.0zM1077.2 548.8h46.0l-23.0 -41.0zM1087.7 548.0h46.0l-23.0 -41.0zM1090.5 548.4h46.0l-23.0 -41.0zM1106.4 550.0h46.0l-23.0 -41.0zM1110.2 552.8h46.0l-23.0 -41.0zM1109.5 556.8h46.0l-23.0 -41.0zM1116.7 561.7h46.0l-23.0 -41.0zM1121.3 568.1h46.0l-23.0 -41.0zM1126.2 575.9h46.0l-23.0 -41.0zM1127.1 585.2h46.0l-23.0 -41.0zM1135.3 597.0h46.0l-23.0 -41.0zM1125.9 611.5h46.0l-23.0 -41.0zM1125.6 626.9h46.0l-23.0 -41.0zM1110.0 649.3h46.0l-23.0 -41.0zM1096.5 671.9h46.0l-23.0 -41.0zM1083.4 697.5h46.0l-23.0 -41.0zM1063.4 727.3h46.0l-23.0 -41.0zM1052.5 756.2h46.0l-23.0 -41.0zM1030.4 791.8h46.0l-23.0 -41.0zM1018.8 826.8h46.0l-23.0 -41.0zM1005.9 854.4h46.0l-23.0 -41.0zM990.0 886.4h46.0l-23.0 -41.0zM973.0 914.3h46.0l-23.0 -41.0zM961.1 934.4h46.0l-23.0 -41.0zM947.5 955.4h46.0l-23.0 -41.0zM933.7 974.0h46.0l-23.0 -41.0zM924.7 988.6h46.0l-23.0 -41.0zM912.2 998.4h46.0l-23.0 -41.0zM901.6 1008.2h46.0l-23.0 -41.0zM891.4 1016.4h46.0l-23.0 -41.0zM885.9 1022.2h46.0l-23.0 -41.0zM884.2 1027.6h46.0l-23.0 -41.0zM878.8 1031.4h46.0l-23.0 -41.0zM876.6 1034.1h46.0l-23.0 -41.0zM876.6 1035.6h46.0l-23.0 -41.0zM873.7 1036.0h46.0l-23.0 -41.0zM868.3 1035.2h46.0l-23.0 -41.0zM872.4 1033.2h46.0l-23.0 -41.0zM869.8 1030.2h46.0l-23.0 -41.0zM875.3 1025.6h46.0l-23.0 -41.0zM871.1 1020.2h46.0l-23.0 -41.0zM877.6 1013.2h46.0l-23.0 -41.0zM880.2 1004.7h46.0l-23.0 -41.0zM884.0 994.4h46.0l-23.0 -41.0zM886.3 983.0h46.0l-23.0 -41.0zM900.9 966.5h46.0l-23.0 -41.0zM900.0 948.4h46.0l-23.0 -41.0zM913.7 926.5h46.0l-23.0 -41.0zM921.7 903.2h46.0l-23.0 -41.0zM932.2 873.7h46.0l-23.0 -41.0zM945.4 840.9h46.0l-23.0 -41.0zM958.2 811.8h46.0l-23.0 -41.0zM982.2 779.3h46.0l-23.0 -41.0zM999.8 746.2h46.0l-23.0 -41.0zM1033.7 717.0h46.0l-23.0 -41.0zM1054.7 686.1h46.0l-23.0 -41.0zM1075.1 661.2h46.0l-23.0 -41.0zM1086.7 638.9h46.0l-23.0 -41.0zM1111.3 621.1h46.0l-23.0 -41.0zM1124.5 604.8h46.0l-23.0 -41.0zM1135.4 591.8h46.0l-23.0 -41.0zM1142.3 582.4h46.0l-23.0 -41.0zM1159.2 572.4h46.0l-23.0 -41.0zM1170.8 565.4h46.0l-23.0 -41.0zM1188.8 559.5h46.0l-23.0 -41.0zM1194.1 554.9h46.0l-23.0 -41.0zM1213.5 551.5h46.0l-23.0 -41.0zM1231.5 549.2h46.0l-23.0 -41.0zM1244.1 548.1h46.0l-23.0 -41.0zM1253.5 548.2h46.0l-23.0 -41.0zM1258.6 549.4h46.0l-23.0 -41.0zM1262.1 551.9h46.0l-23.0 -41.0zM1264.2 555.3h46.0l-23.0 -41.0zM1273.7 560.2h46.0l-23.0 -41.0zM1276.3 566.1h46.0l-23.0 -41.0zM1282.1 573.4h46.0l-23.0 -41.0zM1287.5 581.9h46.0l-23.0 -41.0zM1286.0 593.8h46.0l-23.0 -41.0zM1281.3 606.4h46.0l-23.0 -41.0zM1284.3 621.6h46.0l-23.0 -41.0zM1272.1 640.6h46.0l-23.0 -41.0zM1260.4 667.5h46.0l-23.0 -41.0zM1246.3 689.9h46.0l-23.0 -41.0zM1225.7 719.3h46.0l-23.0 -41.0zM1208.7 753.3h46.0l-23.0 -41.0zM1188.6 785.0h46.0l-23.0 -41.0zM1176.5 818.7h46.0l-23.0 -41.0zM1161.6 846.7h46.0l-23.0 -41.0zM1147.2 879.5h46.0l-23.0 -41.0zM1133.2 906.6h46.0l-23.0 -41.0zM1119.7 927.5h46.0l-23.0 -41.0zM1109.6 952.0h46.0l-23.0 -41.0zM1093.4 969.0h46.0l-23.0 -41.0zM1084.0 983.4h46.0l-23.0 -41.0zM1067.0 995.8h46.0l-23.0 -41.0zM1063.0 1005.4h46.0l-23.0 -41.0zM1054.0 1013.9h46.0l-23.0 -41.0zM1039.3 1021.1h46.0l-23.0 -41.0zM1036.1 1026.1h46.0l-23.0 -41.0zM1030.4 1030.5h46.0l-23.0 -41.0zM1031.6 1033.4h46.0l-23.0 -41.0zM1027.0 1035.3h46.0l-23.0 -41.0zM1023.1 1036.0h46.0l-23.0 -41.0zM1025.0 1035.5h46.0l-23.0 -41.0zM1024.0 1033.9h46.0l-23.0 -41.0zM1026.3 1031.1h46.0l-23.0 -41.0zM1025.9 1027.3h46.0l-23.0 -41.0zM1029.1 1022.2h46.0l-23.0 -41.0zM1033.6 1015.7h46.0l-23.0 -41.0zM1038.7 1007.4h46.0l-23.0 -41.0zM1036.7 997.9h46.0l-23.0 -41.0zM1042.9 987.4h46.0l-23.0 -41.0zM1038.0 971.4h46.0l-23.0 -41.0zM1053.8 955.8h46.0l-23.0 -41.0zM1063.5 934.6h46.0l-23.0 -41.0zM1074.3 911.9h46.0l-23.0 -41.0zM1085.3 885.7h46.0l-23.0 -41.0zM1090.3 855.4h46.0l-23.0 -41.0zM1108.7 824.3h46.0l-23.0 -41.0zM1128.5 787.7h46.0l-23.0 -41.0zM1154.3 755.0h46.0l-23.0 -41.0zM1176.1 722.3h46.0l-23.0 -41.0zM1204.6 696.6h46.0l-23.0 -41.0zM1227.3 669.1h46.0l-23.0 -41.0zM1244.4 646.1h46.0l-23.0 -41.0zM1258.7 626.8h46.0l-23.0 -41.0zM1277.1 609.3h46.0l-23.0 -41.0zM1285.5 595.6h46.0l-23.0 -41.0zM1296.7 584.0h46.0l-23.0 -41.0zM1311.7 574.9h46.0l-23.0 -41.0zM1322.8 567.2h46.0l-23.0 -41.0zM1335.3 561.2h46.0l-23.0 -41.0zM1345.7 556.4h46.0l-23.0 -41.0zM1360.9 552.5h46.0l-23.0 -41.0zM1375.5 549.8h46.0l-23.0 -41.0zM1384.3 548.3h46.0l-23.0 -41.0zM1396.5 548.0h46.0l-23.0 -41.0zM1400.8 548.9h46.0l-23.0 -41.0zM1406.3 550.9h46.0l-23.0 -41.0zM1413.5 554.1h46.0l-23.0 -41.0zM1415.5 558.5h46.0l-23.0 -41.0zM1423.8 563.8h46.0l-23.0 -41.0zM1423.1 570.7h46.0l-23.0 -41.0zM1427.6 579.1h46.0l-23.0 -41.0zM1438.4 589.2h46.0l-23.0 -41.0zM1433.7 601.4h46.0l-23.0 -41.0zM1430.8 617.2h46.0l-23.0 -41.0zM1422.9 636.3h46.0l-23.0 -41.0zM1415.8 657.5h46.0l-23.0 -41.0zM1396.4 680.6h46.0l-23.0 -41.0zM1381.8 709.7h46.0l-23.0 -41.0zM1369.2 740.6h46.0l-23.0 -41.0zM1357.8 769.1h46.0l-23.0 -41.0zM1337.3 807.8h46.0l-23.0 -41.0zM1322.9 837.0h46.0l-23.0 -41.0zM1309.7 867.0h46.0l-23.0 -41.0zM1298.4 901.7h46.0l-23.0 -41.0zM1290.4 921.8h46.0l-23.0 -41.0zM1272.6 944.8h46.0l-23.0 -41.0zM1264.9 963.2h46.0l-23.0 -41.0zM1248.7 980.2h46.0l-23.0 -41.0zM1242.4 992.3h46.0l-23.0 -41.0zM1227.2 1002.5h46.0l-23.0 -41.0zM1220.3 1011.1h46.0l-23.0 -41.0zM1217.1 1018.8h46.0l-23.0 -41.0zM1210.3 1025.0h46.0l-23.0 -41.0zM1207.6 1029.2h46.0l-23.0 -41.0zM1203.1 1032.7h46.0l-23.0 -41.0zM1196.0 1034.8h46.0l-23.0 -41.0zM1196.8 1035.9h46.0l-23.0 -41.0zM1201.5 1035.8h46.0l-23.0 -41.0zM1194.0 1034.5h46.0l-23.0 -41.0zM1197.2 1032.1h46.0l-23.0 -41.0zM1199.5 1028.4h46.0l-23.0 -41.0zM1203.1 1023.3h46.0l-23.0 -41.0zM1201.0 1017.5h46.0l-23.0 -41.0zM1203.0 1010.3h46.0l-23.0 -41.0zM1201.9 1000.9h46.0l-23.0 -41.0zM1209.4 990.3h46.0l-23.0 -41.0zM1210.0 978.2h46.0l-23.0 -41.0zM1225.7 959.1h46.0l-23.0 -41.0zM1227.7 944.0h46.0l-23.0 -41.0zM1239.0 918.7h46.0l-23.0 -41.0zM1247.3 891.5h46.0l-23.0 -41.0zM1257.7 862.4h46.0l-23.0 -41.0zM1272.4 831.3h46.0l-23.0 -41.0zM1283.9 797.0h46.0l-23.0 -41.0zM1305.1 764.7h46.0l-23.0 -41.0zM1326.9 736.4h46.0l-23.0 -41.0zM1352.2 705.2h46.0l-23.0 -41.0zM1371.4 677.0h46.0l-23.0 -41.0zM1385.8 652.3h46.0l-23.0 -41.0zM1405.0 630.7h46.0l-23.0 -41.0zM1421.8 614.3h46.0l-23.0 -41.0zM1428.2 599.3h46.0l-23.0 -41.0zM1438.7 587.6h46.0l-23.0 -41.0zM1450.2 578.1h46.0l-23.0 -41.0zM1464.0 568.9h46.0l-23.0 -41.0zM1478.2 562.5h46.0l-23.0 -41.0zM1494.2 557.7h46.0l-23.0 -41.0zM1510.3 553.3h46.0l-23.0 -41.0zM1520.0 550.5h46.0l-23.0 -41.0zM1537.3 548.6h46.0l-23.0 -41.0zM1553.5 548.0h46.0l-23.0 -41.0zM1560.0 548.5h46.0l-23.0 -41.0zM1562.5 550.2h46.0l-23.0 -41.0zM1564.9 553.0h46.0l-23.0 -41.0zM1572.2 557.0h46.0l-23.0 -41.0zM1577.2 562.3h46.0l-23.0 -41.0zM1589.8 568.6h46.0l-23.0 -41.0zM1587.7 576.7h46.0l-23.0 -41.0zM1591.5 587.0h46.0l-23.0 -41.0zM1586.8 597.8h46.0l-23.0 -41.0zM1581.5 611.9h46.0l-23.0 -41.0zM1584.1 630.0h46.0l-23.0 -41.0zM1567.5 650.0h46.0l-23.0 -41.0zM1556.8 675.0h46.0l-23.0 -41.0zM1539.2 701.0h46.0l-23.0 -41.0zM1521.6 729.2h46.0l-23.0 -41.0zM1518.0 758.9h46.0l-23.0 -41.0zM1497.9 796.6h46.0l-23.0 -41.0zM1483.5 827.3h46.0l-23.0 -41.0zM1470.7 860.4h46.0l-23.0 -41.0zM1457.9 886.6h46.0l-23.0 -41.0zM1446.3 914.8h46.0l-23.0 -41.0zM1434.6 939.3h46.0l-23.0 -41.0zM1424.3 959.6h46.0l-23.0 -41.0zM1409.2 975.9h46.0l-23.0 -41.0zM1403.3 989.6h46.0l-23.0 -41.0zM1394.1 1000.1h46.0l-23.0 -41.0zM1381.3 1009.7h46.0l-23.0 -41.0zM1369.8 1017.0h46.0l-23.0 -41.0zM1365.8 1023.1h46.0l-23.0 -41.0zM1357.1 1027.9h46.0l-23.0 -41.0zM1358.4 1031.8h46.0l-23.0 -41.0zM1358.7 1034.3h46.0l-23.0 -41.0zM1353.7 1035.7h46.0l-23.0 -41.0zM1355.2 1035.9h46.0l-23.0 -41.0zM1356.0 1035.0h46.0l-23.0 -41.0zM1354.6 1032.9h46.0l-23.0 -41.0zM1352.8 1029.5h46.0l-23.0 -41.0zM1352.7 1025.4h46.0l-23.0 -41.0zM1358.2 1019.3h46.0l-23.0 -41.0zM1361.0 1013.0h46.0l-23.0 -41.0zM1359.9 1003.8h46.0l-23.0 -41.0zM1362.2 993.8h46.0l-23.0 -41.0zM1369.1 981.8h46.0l-23.0 -41.0zM1377.1 966.7h46.0l-23.0 -41.0zM1385.2 948.0h46.0l-23.0 -41.0zM1385.7 925.4h46.0l-23.0 -41.0zM1402.1 900.0h46.0l-23.0 -41.0zM1414.7 871.8h46.0l-23.0 -41.0zM1419.8 844.4h46.0l-23.0 -41.0zM1439.3 809.7h46.0l-23.0 -41.0zM1458.2 778.4h46.0l-23.0 -41.0zM1477.5 739.2h46.0l-23.0 -41.0zM1498.5 712.3h46.0l-23.0 -41.0zM1518.4 685.1h46.0l-23.0 -41.0zM1541.4 658.9h46.0l-23.0 -41.0zM1550.3 639.9h46.0l-23.0 -41.0zM1568.3 618.1h46.0l-23.0 -41.0zM1583.6 604.0h46.0l-23.0 -41.0zM1591.8 591.4h46.0l-23.0 -41.0zM1602.6 580.0h46.0l-23.0 -41.0zM1618.1 572.0h46.0l-23.0 -41.0zM1629.1 564.8h46.0l-23.0 -41.0zM1644.2 559.4h46.0l-23.0 -41.0zM1655.8 554.6h46.0l-23.0 -41.0zM1671.2 551.2h46.0l-23.0 -41.0zM1687.0 549.1h46.0l-23.0 -41.0zM1702.1 548.1h46.0l-23.0 -41.0zM1704.7 548.2h46.0l-23.0 -41.0zM1713.3 549.6h46.0l-23.0 -41.0zM1721.3 552.1h46.0l-23.0 -41.0zM1725.7 555.9h46.0l-23.0 -41.0zM1728.3 560.4h46.0l-23.0 -41.0zM1729.6 566.3h46.0l-23.0 -41.0zM1743.3 573.9h46.0l-23.0 -41.0zM1746.4 583.6h46.0l-23.0 -41.0zM1746.0 595.1h46.0l-23.0 -41.0zM1738.7 607.9h46.0l-23.0 -41.0zM1737.4 624.6h46.0l-23.0 -41.0zM1725.0 643.9h46.0l-23.0 -41.0zM1718.4 664.4h46.0l-23.0 -41.0zM1699.5 691.5h46.0l-23.0 -41.0zM1684.8 723.6h46.0l-23.0 -41.0zM1670.7 755.0h46.0l-23.0 -41.0zM1652.2 788.4h46.0l-23.0 -41.0zM1641.1 820.4h46.0l-23.0 -41.0zM1629.9 846.3h46.0l-23.0 -41.0zM1614.3 881.5h46.0l-23.0 -41.0zM1609.6 908.8h46.0l-23.0 -41.0zM1595.5 930.7h46.0l-23.0 -41.0zM1586.0 955.0h46.0l-23.0 -41.0zM1569.7 970.4h46.0l-23.0 -41.0zM1554.2 985.6h46.0l-23.0 -41.0zM1557.0 997.3h46.0l-23.0 -41.0zM1544.3 1007.0h46.0l-23.0 -41.0zM1529.7 1015.2h46.0l-23.0 -41.0zM1522.2 1021.4h46.0l-23.0 -41.0zM1521.3 1026.8h46.0l-23.0 -41.0zM1517.6 1030.8h46.0l-23.0 -41.0zM1511.1 1033.6h46.0l-23.0 -41.0zM1511.8 1035.4h46.0l-23.0 -41.0zM1507.1 1036.0h46.0l-23.0 -41.0zM1509.7 1035.4h46.0l-23.0 -41.0zM1507.5 1033.6h46.0l-23.0 -41.0zM1512.7 1030.8h46.0l-23.0 -41.0zM1519.0 1026.5h46.0l-23.0 -41.0zM1512.1 1021.6h46.0l-23.0 -41.0zM1514.8 1014.8h46.0l-23.0 -41.0zM1522.3 1006.7h46.0l-23.0 -41.0zM1515.8 996.3h46.0l-23.0 -41.0zM1523.2 985.2h46.0l-23.0 -41.0zM1523.9 969.8h46.0l-23.0 -41.0zM1536.7 953.7h46.0l-23.0 -41.0zM1541.6 933.2h46.0l-23.0 -41.0zM1555.5 905.8h46.0l-23.0 -41.0zM1563.6 881.8h46.0l-23.0 -41.0zM1573.1 847.2h46.0l-23.0 -41.0zM1587.1 820.6h46.0l-23.0 -41.0zM1608.4 781.8h46.0l-23.0 -41.0zM1632.3 751.3h46.0l-23.0 -41.0zM1650.0 724.3h46.0l-23.0 -41.0zM1672.2 693.2h46.0l-23.0 -41.0zM1682.4 667.7h46.0l-23.0 -41.0zM1698.7 641.0h46.0l-23.0 -41.0zM1725.9 625.1h46.0l-23.0 -41.0zM1736.8 607.4h46.0l-23.0 -41.0zM1747.3 595.4h46.0l-23.0 -41.0zM1757.0 583.3h46.0l-23.0 -41.0zM1761.3 574.1h46.0l-23.0 -41.0zM1771.1 566.3h46.0l-23.0 -41.0zM1790.8 560.4h46.0l-23.0 -41.0zM1802.8 555.7h46.0l-23.0 -41.0zM1821.9 552.2h46.0l-23.0 -41.0zM1828.7 549.6h46.0l-23.0 -41.0zM1839.3 548.2h46.0l-23.0 -41.0zM1854.6 548.1h46.0l-23.0 -41.0zM1856.4 549.0h46.0l-23.0 -41.0zM1862.9 551.3h46.0l-23.0 -41.0zM1865.6 554.5h46.0l-23.0 -41.0zM1870.5 558.8h46.0l-23.0 -41.0zM1874.8 565.0h46.0l-23.0 -41.0zM1891.0 571.9h46.0l-23.0 -41.0zM1887.1 580.7h46.0l-23.0 -41.0zM1887.4 591.4h46.0l-23.0 -41.0zM1887.4 603.9h46.0l-23.0 -41.0zM1886.5 618.7h46.0l-23.0 -41.0zM1876.0 635.8h46.0l-23.0 -41.0zM1863.8 657.7h46.0l-23.0 -41.0zM1850.7 683.3h46.0l-23.0 -41.0zM1836.5 713.9h46.0l-23.0 -41.0zM1819.1 742.3h46.0l-23.0 -41.0zM1807.0 777.8h46.0l-23.0 -41.0zM1801.2 811.0h46.0l-23.0 -41.0zM1781.6 844.5h46.0l-23.0 -41.0zM1765.3 875.0h46.0l-23.0 -41.0zM1756.2 896.3h46.0l-23.0 -41.0zM1755.6 927.7h46.0l-23.0 -41.0zM1733.0 947.5h46.0l-23.0 -41.0zM1723.0 965.8h46.0l-23.0 -41.0zM1708.9 980.5h46.0l-23.0 -41.0zM1704.2 993.8h46.0l-23.0 -41.0zM1697.8 1004.1h46.0l-23.0 -41.0zM1693.4 1012.4h46.0l-23.0 -41.0zM1680.2 1019.2h46.0l-23.0 -41.0zM1670.0 1025.4h46.0l-23.0 -41.0zM1666.5 1029.7h46.0l-23.0 -41.0zM1665.9 1032.9h46.0l-23.0 -41.0zM1662.9 1035.0h46.0l-23.0 -41.0zM1661.6 1035.9h46.0l-23.0 -41.0zM1665.0 1035.7h46.0l-23.0 -41.0zM1660.6 1034.3h46.0l-23.0 -41.0zM1663.6 1031.8h46.0l-23.0 -41.0zM1672.6 1028.1h46.0l-23.0 -41.0zM1665.6 1023.1h46.0l-23.0 -41.0zM1664.4 1016.7h46.0l-23.0 -41.0zM1665.5 1009.3h46.0l-23.0 -41.0zM1669.1 1000.5h46.0l-23.0 -41.0zM1671.6 988.8h46.0l-23.0 -41.0zM1674.2 976.5h46.0l-23.0 -41.0zM1685.8 960.4h46.0l-23.0 -41.0zM1694.4 940.8h46.0l-23.0 -41.0zM1700.8 917.0h46.0l-23.0 -41.0zM1720.6 887.7h46.0l-23.0 -41.0zM1725.7 863.4h46.0l-23.0 -41.0zM1735.1 830.4h46.0l-23.0 -41.0zM1751.9 794.8h46.0l-23.0 -41.0zM1769.0 761.5h46.0l-23.0 -41.0zM1786.9 730.2h46.0l-23.0 -41.0zM1810.8 701.7h46.0l-23.0 -41.0zM1830.4 672.2h46.0l-23.0 -41.0zM1849.9 651.9h46.0l-23.0 -41.0zM1862.3 629.5h46.0l-23.0 -41.0zM1874.4 613.1h46.0l-23.0 -41.0zM1888.0 597.2h46.0l-23.0 -41.0zM1899.0 587.9h46.0l-23.0 -41.0zM1901.5 577.1h46.0l-23.0 -41.0zM1919.8 568.8h46.0l-23.0 -41.0zM1934.4 562.1h46.0l-23.0 -41.0zM1942.2 557.3h46.0l-23.0 -41.0zM1952.5 553.0h46.0l-23.0 -41.0zM1965.0 550.2h46.0l-23.0 -41.0zM1980.9 548.5h46.0l-23.0 -41.0zM1990.0 548.0h46.0l-23.0 -41.0zM1994.7 548.6h46.0l-23.0 -41.0zM1990.0 550.5h46.0l-23.0 -41.0zM2000.0 553.4h46.0l-23.0 -41.0zM2013.4 557.4h46.0l-23.0 -41.0zM2010.7 563.2h46.0l-23.0 -41.0zM2019.6 570.0h46.0l-23.0 -41.0zM2025.6 577.3h46.0l-23.0 -41.0zM2026.2 588.2h46.0l-23.0 -41.0zM2028.3 599.6h46.0l-23.0 -41.0zM2024.5 614.1h46.0l-23.0 -41.0zM2021.5 633.8h46.0l-23.0 -41.0zM2022.2 651.2h46.0l-23.0 -41.0zM2019.7 678.0h46.0l-23.0 -41.0zM2008.5 704.1h46.0l-23.0 -41.0zM1986.3 734.5h46.0l-23.0 -41.0zM1966.1 763.9h46.0l-23.0 -41.0zM1958.8 798.4h46.0l-23.0 -41.0zM1942.8 834.5h46.0l-23.0 -41.0zM1929.5 863.5h46.0l-23.0 -41.0zM1920.9 893.5h46.0l-23.0 -41.0zM1901.5 919.5h46.0l-23.0 -41.0zM1893.6 940.1h46.0l-23.0 -41.0zM1881.0 960.3h46.0l-23.0 -41.0zM1862.8 976.6h46.0l-23.0 -41.0zM1857.9 989.8h46.0l-23.0 -41.0zM1843.7 1001.0h46.0l-23.0 -41.0zM1840.5 1010.2h46.0l-23.0 -41.0zM1829.4 1017.8h46.0l-23.0 -41.0zM1822.6 1023.6h46.0l-23.0 -41.0zM1825.2 1028.4h46.0l-23.0 -41.0zM1815.7 1032.1h46.0l-23.0 -41.0zM1813.4 1034.5h46.0l-23.0 -41.0zM1813.9 1035.8h46.0l-23.0 -41.0zM1806.2 1035.9h46.0l-23.0 -41.0zM1810.1 1034.8h46.0l-23.0 -41.0zM1811.1 1032.6h46.0l-23.0 -41.0zM1815.3 1029.2h46.0l-23.0 -41.0zM1815.7 1024.8h46.0l-23.0 -41.0zM1814.2 1019.0h46.0l-23.0 -41.0zM1823.0 1011.9h46.0l-23.0 -41.0zM1817.8 1003.1h46.0l-23.0 -41.0zM1819.1 992.6h46.0l-23.0 -41.0zM1828.6 979.0h46.0l-23.0 -41.0zM1831.4 965.0h46.0l-23.0 -41.0zM1837.8 945.5h46.0l-23.0 -41.0zM469.0 576.5h46.0l-23.0 -41.0zM473.0 569.5h46.0l-23.0 -41.0z" fill="#0072e6"/>
<rect x="248" y="49.8" width="1954" height="1575.9" fill="none" stroke="#000" stroke-width="6"/>
<line x1="251" y1="1533.0" x2="276.5" y2="1533.0" stroke="#000" stroke-width="6"/>
<line x1="251" y1="1440.3" x2="276.5" y2="1440.3" stroke="#000" stroke-width="6"/>
<line x1="251" y1="1347.6" x2="276.5" y2="1347.6" stroke="#000" stroke-width="6"/>
<line x1="251" y1="1254.9" x2="276.5" y2="1254.9" stroke="#000" stroke-width="6"/>
<line x1="251" y1="1162.2" x2="276.5" y2="1162.2" stroke="#000" stroke-width="6"/>
<line x1="251" y1="1069.6" x2="276.5" y2="1069.6" stroke="#000" stroke-width="6"/>
<line x1="251" y1="976.9" x2="276.5" y2="976.9" stroke="#000" stroke-width="6"/>
<line x1="251" y1="884.2" x2="276.5" y2="884.2" stroke="#000" stroke-width="6"/>
<line x1="251" y1="791.5" x2="276.5" y2="791.5" stroke="#000" stroke-width="6"/>
<line x1="251" y1="698.8" x2="276.5" y2="698.8" stroke="#000" stroke-width="6"/>
<line x1="251" y1="606.1" x2="276.5" y2="606.1" stroke="#000" stroke-width="6"/>
<line x1="251" y1="513.4" x2="276.5" y2="513.4" stroke="#000" stroke-width="6"/>
<line x1="251" y1="420.7" x2="276.5" y2="420.7" stroke="#000" stroke-width="6"/>
<line x1="251" y1="328.0" x2="276.5" y2="328.0" stroke="#000" stroke-width="6"/>
<line x1="251" y1="235.4" x2="276.5" y2="235.4" stroke="#000" stroke-width="6"/>
<line x1="251" y1="142.7" x2="276.5" y2="142.7" stroke="#000" stroke-width="6"/>
<line x1="409.3" y1="1594.5" x2="409.3" y2="1623" stroke="#000" stroke-width="5.5"/>
<line x1="572.4" y1="1594.5" x2="572.4" y2="1623" stroke="#000" stroke-width="5.5"/>
<line x1="735.4" y1="1594.5" x2="735.4" y2="1623" stroke="#000" stroke-width="5.5"/>
<line x1="898.5" y1="1594.5" x2="898.5" y2="1623" stroke="#000" stroke-width="5.5"/>
<line x1="1061.5" y1="1594.5" x2="1061.5" y2="1623" stroke="#000" stroke-width="5.5"/>
<line x1="1224.5" y1="1594.5" x2="1224.5" y2="1623" stroke="#000" stroke-width="5.5"/>
<line x1="1387.6" y1="1594.5" x2="1387.6" y2="1623" stroke="#000" stroke-width="5.5"/>
<line x1="1550.6" y1="1594.5" x2="1550.6" y2="1623" stroke="#000" stroke-width="5.5"/>
<line x1="1713.7" y1="1594.5" x2="1713.7" y2="1623" stroke="#000" stroke-width="5.5"/>
<line x1="1876.8" y1="1594.5" x2="1876.8" y2="1623" stroke="#000" stroke-width="5.5"/>
<line x1="2039.8" y1="1594.5" x2="2039.8" y2="1623" stroke="#000" stroke-width="5.5"/>
<text x="211.5" y="1652.3" text-anchor="end" class="tk" transform="translate(211.5 0) scale(0.93 1) translate(-211.5 0)">0</text>
<text x="211.5" y="1559.6" text-anchor="end" class="tk" transform="translate(211.5 0) scale(0.93 1) translate(-211.5 0)">10</text>
<text x="211.5" y="1466.9" text-anchor="end" class="tk" transform="translate(211.5 0) scale(0.93 1) translate(-211.5 0)">20</text>
<text x="211.5" y="1374.2" text-anchor="end" class="tk" transform="translate(211.5 0) scale(0.93 1) translate(-211.5 0)">30</text>
<text x="211.5" y="1281.5" text-anchor="end" class="tk" transform="translate(211.5 0) scale(0.93 1) translate(-211.5 0)">40</text>
<text x="211.5" y="1188.8" text-anchor="end" class="tk" transform="translate(211.5 0) scale(0.93 1) translate(-211.5 0)">50</text>
<text x="211.5" y="1096.2" text-anchor="end" class="tk" transform="translate(211.5 0) scale(0.93 1) translate(-211.5 0)">60</text>
<text x="211.5" y="1003.5" text-anchor="end" class="tk" transform="translate(211.5 0) scale(0.93 1) translate(-211.5 0)">70</text>
<text x="211.5" y="910.8" text-anchor="end" class="tk" transform="translate(211.5 0) scale(0.93 1) translate(-211.5 0)">80</text>
<text x="211.5" y="818.1" text-anchor="end" class="tk" transform="translate(211.5 0) scale(0.93 1) translate(-211.5 0)">90</text>
<text x="211.5" y="725.4" text-anchor="end" class="tk" transform="translate(211.5 0) scale(0.93 1) translate(-211.5 0)">100</text>
<text x="211.5" y="632.7" text-anchor="end" class="tk" transform="translate(211.5 0) scale(0.93 1) translate(-211.5 0)">110</text>
<text x="211.5" y="540.0" text-anchor="end" class="tk" transform="translate(211.5 0) scale(0.93 1) translate(-211.5 0)">120</text>
<text x="211.5" y="447.3" text-anchor="end" class="tk" transform="translate(211.5 0) scale(0.93 1) translate(-211.5 0)">130</text>
<text x="211.5" y="354.6" text-anchor="end" class="tk" transform="translate(211.5 0) scale(0.93 1) translate(-211.5 0)">140</text>
<text x="211.5" y="262.0" text-anchor="end" class="tk" transform="translate(211.5 0) scale(0.93 1) translate(-211.5 0)">150</text>
<text x="211.5" y="169.3" text-anchor="end" class="tk" transform="translate(211.5 0) scale(0.93 1) translate(-211.5 0)">160</text>
<text x="211.5" y="76.6" text-anchor="end" class="tk" transform="translate(211.5 0) scale(0.93 1) translate(-211.5 0)">170</text>
<text x="246.2" y="1716.8" text-anchor="middle" class="tk" transform="translate(246.2 0) scale(0.93 1) translate(-246.2 0)">−0. 1</text>
<text x="409.3" y="1716.8" text-anchor="middle" class="tk" transform="translate(409.3 0) scale(0.93 1) translate(-409.3 0)">0. 0</text>
<text x="572.4" y="1716.8" text-anchor="middle" class="tk" transform="translate(572.4 0) scale(0.93 1) translate(-572.4 0)">0. 1</text>
<text x="735.4" y="1716.8" text-anchor="middle" class="tk" transform="translate(735.4 0) scale(0.93 1) translate(-735.4 0)">0. 2</text>
<text x="898.5" y="1716.8" text-anchor="middle" class="tk" transform="translate(898.5 0) scale(0.93 1) translate(-898.5 0)">0. 3</text>
<text x="1061.5" y="1716.8" text-anchor="middle" class="tk" transform="translate(1061.5 0) scale(0.93 1) translate(-1061.5 0)">0. 4</text>
<text x="1224.5" y="1716.8" text-anchor="middle" class="tk" transform="translate(1224.5 0) scale(0.93 1) translate(-1224.5 0)">0. 5</text>
<text x="1387.6" y="1716.8" text-anchor="middle" class="tk" transform="translate(1387.6 0) scale(0.93 1) translate(-1387.6 0)">0. 6</text>
<text x="1550.6" y="1716.8" text-anchor="middle" class="tk" transform="translate(1550.6 0) scale(0.93 1) translate(-1550.6 0)">0. 7</text>
<text x="1713.7" y="1716.8" text-anchor="middle" class="tk" transform="translate(1713.7 0) scale(0.93 1) translate(-1713.7 0)">0. 8</text>
<text x="1876.8" y="1716.8" text-anchor="middle" class="tk" transform="translate(1876.8 0) scale(0.93 1) translate(-1876.8 0)">0. 9</text>
<text x="2039.8" y="1716.8" text-anchor="middle" class="tk" transform="translate(2039.8 0) scale(0.93 1) translate(-2039.8 0)">1. 0</text>
<text x="2202.9" y="1716.8" text-anchor="middle" class="tk" transform="translate(2202.9 0) scale(0.93 1) translate(-2202.9 0)">1. 1</text>
<text x="0" y="0" text-anchor="middle" class="ax" transform="translate(1223 1829.3) scale(0.963 1)">Axial strain/%</text>
<text transform="translate(77.5 836) rotate(-90) scale(0.961 1)" x="0" y="0" text-anchor="middle" class="ax">Dynamic Stress Amplitude/kPa</text>
<text x="0" y="0" class="cap" transform="translate(1126.6 1951.6) scale(1.0 1)" text-anchor="middle"><tspan>(</tspan><tspan font-weight="bold">c</tspan><tspan>) Water content of 60%</tspan></text>
<line x1="294.6" y1="135.5" x2="476.5" y2="135.5" stroke="#6e6e6e" stroke-width="2.2"/>
<rect x="368.6" y="117.9" width="33.6" height="32.8" fill="#4d4d4d"/>
<line x1="294.6" y1="253.8" x2="476.5" y2="253.8" stroke="#ff5a5a" stroke-width="2.4"/>
<circle cx="385.4" cy="252.5" r="19" fill="#ff3b3b"/>
<line x1="294.6" y1="370.6" x2="476.5" y2="370.6" stroke="#4a9cf0" stroke-width="3"/>
<polygon points="362.8,386.3 409.5,386.3 386.1,343.9" fill="#0a6fe2"/>
<text x="504.5" y="161.9" class="lg"><tspan font-style="italic">σ</tspan><tspan font-size="56" dy="22">c</tspan><tspan dy="-22">= 50 kPa</tspan></text>
<text x="504.5" y="280.2" class="lg"><tspan font-style="italic">σ</tspan><tspan font-size="56" dy="22">c</tspan><tspan dy="-22">=100kPa</tspan></text>
<text x="504.5" y="398.5" class="lg"><tspan font-style="italic">σ</tspan><tspan font-size="56" dy="22">c</tspan><tspan dy="-22">=200kPa</tspan></text>
</svg></body></html>
